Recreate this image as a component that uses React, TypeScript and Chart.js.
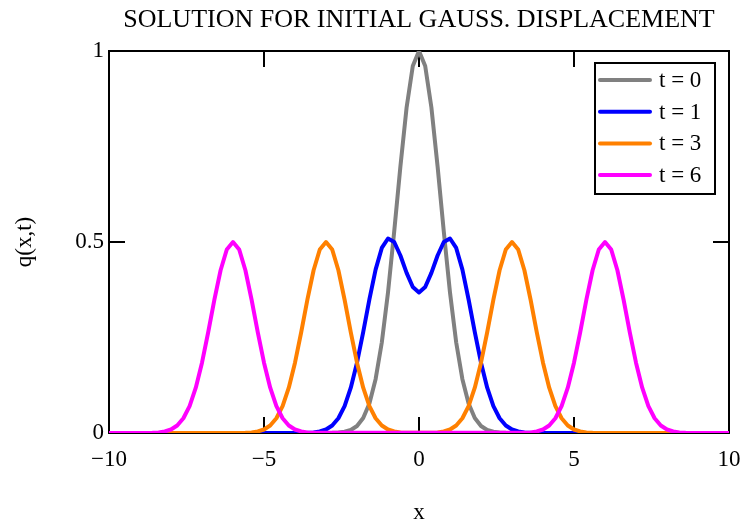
import React, { useEffect, useRef } from "react";
import { Chart, registerables } from "chart.js";

Chart.register(...registerables);

const FONT = "'Liberation Serif', 'Times New Roman', serif";

// ---- data ----
const seriesLabels = ["t = 0", "t = 1", "t = 3", "t = 6"];
const seriesColors = ["#808080", "#0000ff", "#ff8000", "#ff00ff"];

const xTicks = [-10, -5, 0, 5, 10];
const yTicks = [0, 0.5, 1];

const xT0 = [-10, -3, -2.8, -2.6, -2.4, -2.2, -2, -1.8, -1.6, -1.4, -1.2, -1, -0.8, -0.6, -0.4, -0.2, 0,
  0.2, 0.4, 0.6, 0.8, 1, 1.2, 1.4, 1.6, 1.8, 2, 2.2, 2.4, 2.6, 2.8, 3, 10];
const yT0 = [0, 0.0001, 0.0004, 0.0012, 0.0032, 0.0079, 0.0183, 0.0392, 0.0773, 0.1409, 0.2369, 0.3679, 0.5273, 0.6977, 0.8521, 0.9608, 1,
  0.9608, 0.8521, 0.6977, 0.5273, 0.3679, 0.2369, 0.1409, 0.0773, 0.0392, 0.0183, 0.0079, 0.0032, 0.0012, 0.0004, 0.0001, 0];

const xT1 = [-10, -3.8, -3.6, -3.4, -3.2, -3, -2.8, -2.6, -2.4, -2.2, -2, -1.8, -1.6, -1.4, -1.2, -1, -0.8, -0.6, -0.4, -0.2, 0,
  0.2, 0.4, 0.6, 0.8, 1, 1.2, 1.4, 1.6, 1.8, 2, 2.2, 2.4, 2.6, 2.8, 3, 3.2, 3.4, 3.6, 3.8, 10];
const yT1 = [0, 0.0002, 0.0006, 0.0016, 0.004, 0.0092, 0.0196, 0.0387, 0.0705, 0.1185, 0.184, 0.2639, 0.3495, 0.4277, 0.4844, 0.5092, 0.5, 0.4647, 0.4193, 0.3821, 0.3679,
  0.3821, 0.4193, 0.4647, 0.5, 0.5092, 0.4844, 0.4277, 0.3495, 0.2639, 0.184, 0.1185, 0.0705, 0.0387, 0.0196, 0.0092, 0.004, 0.0016, 0.0006, 0.0002, 0];

const xT3 = [-10, -5.6, -5.4, -5.2, -5, -4.8, -4.6, -4.4, -4.2, -4, -3.8, -3.6, -3.4, -3.2, -3, -2.8, -2.6, -2.4, -2.2, -2, -1.8, -1.6, -1.4, -1.2, -1, -0.8, -0.6, -0.4,
  0.4, 0.6, 0.8, 1, 1.2, 1.4, 1.6, 1.8, 2, 2.2, 2.4, 2.6, 2.8, 3, 3.2, 3.4, 3.6, 3.8, 4, 4.2, 4.4, 4.6, 4.8, 5, 5.2, 5.4, 5.6, 10];
const yT3 = [0, 0.0006, 0.0016, 0.004, 0.0092, 0.0196, 0.0387, 0.0705, 0.1185, 0.184, 0.2637, 0.3489, 0.4261, 0.4804, 0.5, 0.4804, 0.4261, 0.3489, 0.2637, 0.184, 0.1185, 0.0705, 0.0387, 0.0196, 0.0092, 0.004, 0.0016, 0.0006,
  0.0006, 0.0016, 0.004, 0.0092, 0.0196, 0.0387, 0.0705, 0.1185, 0.184, 0.2637, 0.3489, 0.4261, 0.4804, 0.5, 0.4804, 0.4261, 0.3489, 0.2637, 0.184, 0.1185, 0.0705, 0.0387, 0.0196, 0.0092, 0.004, 0.0016, 0.0006, 0];

const xT6 = [-10, -8.6, -8.4, -8.2, -8, -7.8, -7.6, -7.4, -7.2, -7, -6.8, -6.6, -6.4, -6.2, -6, -5.8, -5.6, -5.4, -5.2, -5, -4.8, -4.6, -4.4, -4.2, -4, -3.8, -3.6, -3.4,
  3.4, 3.6, 3.8, 4, 4.2, 4.4, 4.6, 4.8, 5, 5.2, 5.4, 5.6, 5.8, 6, 6.2, 6.4, 6.6, 6.8, 7, 7.2, 7.4, 7.6, 7.8, 8, 8.2, 8.4, 8.6, 10];
const yT6 = [0, 0.0006, 0.0016, 0.004, 0.0092, 0.0196, 0.0387, 0.0705, 0.1185, 0.184, 0.2637, 0.3489, 0.4261, 0.4804, 0.5, 0.4804, 0.4261, 0.3489, 0.2637, 0.184, 0.1185, 0.0705, 0.0387, 0.0196, 0.0092, 0.004, 0.0016, 0.0006,
  0.0006, 0.0016, 0.004, 0.0092, 0.0196, 0.0387, 0.0705, 0.1185, 0.184, 0.2637, 0.3489, 0.4261, 0.4804, 0.5, 0.4804, 0.4261, 0.3489, 0.2637, 0.184, 0.1185, 0.0705, 0.0387, 0.0196, 0.0092, 0.004, 0.0016, 0.0006, 0];

const seriesX = [xT0, xT1, xT3, xT6];
const seriesY = [yT0, yT1, yT3, yT6];

const fmtX = (v: number) => (v < 0 ? "\u2212" + Math.abs(v) : String(v));

const framePlugin = {
  id: "frameTicks",
  beforeDatasetsDraw(chart: any) {
    const { ctx, chartArea: a, scales } = chart;
    const TL = 16;
    ctx.save();
    ctx.strokeStyle = "#000";
    ctx.lineWidth = 2;
    ctx.strokeRect(a.left, a.top, a.right - a.left, a.bottom - a.top);
    ctx.beginPath();
    xTicks.forEach((v) => {
      if (v === xTicks[0] || v === xTicks[xTicks.length - 1]) return;
      const px = Math.round(scales.x.getPixelForValue(v));
      ctx.moveTo(px, a.top);
      ctx.lineTo(px, a.top + TL);
      ctx.moveTo(px, a.bottom);
      ctx.lineTo(px, a.bottom - TL);
    });
    yTicks.forEach((v) => {
      if (v === yTicks[0] || v === yTicks[yTicks.length - 1]) return;
      const py = Math.round(scales.y.getPixelForValue(v));
      ctx.moveTo(a.left, py);
      ctx.lineTo(a.left + TL, py);
      ctx.moveTo(a.right, py);
      ctx.lineTo(a.right - TL, py);
    });
    ctx.stroke();
    ctx.restore();
  },
};

const legendPlugin = {
  id: "boxLegend",
  afterDatasetsDraw(chart: any) {
    const { ctx, chartArea: a } = chart;
    const bw = 120;
    const bh = 131;
    const bx = a.right - 14 - bw;
    const by = a.top + 12;
    ctx.save();
    ctx.fillStyle = "#fff";
    ctx.fillRect(bx, by, bw, bh);
    ctx.strokeStyle = "#000";
    ctx.lineWidth = 2;
    ctx.strokeRect(bx, by, bw, bh);
    ctx.font = `23px ${FONT}`;
    ctx.textBaseline = "middle";
    ctx.textAlign = "left";
    seriesLabels.forEach((lab, i) => {
      const yy = by + 17 + i * 31.7;
      ctx.strokeStyle = seriesColors[i];
      ctx.lineWidth = 4;
      ctx.lineCap = "round";
      ctx.beginPath();
      ctx.moveTo(bx + 5, yy);
      ctx.lineTo(bx + 55, yy);
      ctx.stroke();
      ctx.fillStyle = "#000";
      ctx.fillText(lab, bx + 64, yy + 1);
    });
    ctx.restore();
  },
};

export default function App() {
  const ref = useRef<HTMLCanvasElement>(null);

  useEffect(() => {
    if (!ref.current) return;
    const datasets = seriesLabels.map((lab, i) => ({
      label: lab,
      data: seriesX[i].map((x, j) => ({ x, y: seriesY[i][j] })),
      borderColor: seriesColors[i],
      backgroundColor: seriesColors[i],
      borderWidth: 4,
      pointRadius: 0,
      tension: 0,
      fill: false,
      borderJoinStyle: "round" as const,
      borderCapStyle: "round" as const,
      order: seriesLabels.length - i,
    }));

    const chart = new Chart(ref.current, {
      type: "line",
      data: { datasets },
      plugins: [framePlugin, legendPlugin],
      options: {
        animation: false,
        responsive: false,
        devicePixelRatio: 1,
        events: [],
        layout: { padding: { left: 0, right: 17, top: 0, bottom: 0 } },
        plugins: {
          legend: { display: false },
          tooltip: { enabled: false },
          title: {
            display: true,
            text: "SOLUTION FOR INITIAL GAUSS. DISPLACEMENT",
            color: "#000",
            fullSize: false,
            font: { family: FONT, size: 26, weight: "normal", lineHeight: 1.2 },
            padding: { top: 4.5, bottom: 15.3 },
          },
        },
        scales: {
          x: {
            type: "linear",
            min: -10,
            max: 10,
            grid: { display: false, drawTicks: true, tickLength: 13 },
            border: { display: false },
            afterBuildTicks: (s: any) => {
              s.ticks = xTicks.map((v) => ({ value: v }));
            },
            afterFit: (s: any) => {
              s.height = 88;
            },
            ticks: {
              color: "#000",
              padding: 0,
              maxRotation: 0,
              autoSkip: false,
              font: { family: FONT, size: 23 },
              callback: (v: any) => fmtX(Number(v)),
            },
            title: {
              display: true,
              text: "x",
              color: "#000",
              font: { family: FONT, size: 23, lineHeight: 1 },
              padding: { top: 0, bottom: -3 },
            },
          },
          y: {
            type: "linear",
            min: 0,
            max: 1,
            grid: { display: false, drawTicks: false },
            border: { display: false },
            afterBuildTicks: (s: any) => {
              s.ticks = yTicks.map((v) => ({ value: v }));
            },
            afterFit: (s: any) => {
              s.width = 109;
            },
            ticks: {
              color: "#000",
              padding: 5,
              autoSkip: false,
              font: { family: FONT, size: 23 },
              callback: (v: any) => String(v),
            },
            title: {
              display: true,
              text: "q(x,t)",
              color: "#000",
              font: { family: FONT, size: 23, lineHeight: 1.2 },
              padding: { top: 11, bottom: 0 },
            },
          },
        },
      },
    });
    return () => chart.destroy();
  }, []);

  return (
    <div style={{ position: "absolute", left: 0, top: 0, width: 746, height: 521, background: "#fff" }}>
      <canvas ref={ref} width={746} height={521} style={{ display: "block" }} />
    </div>
  );
}
